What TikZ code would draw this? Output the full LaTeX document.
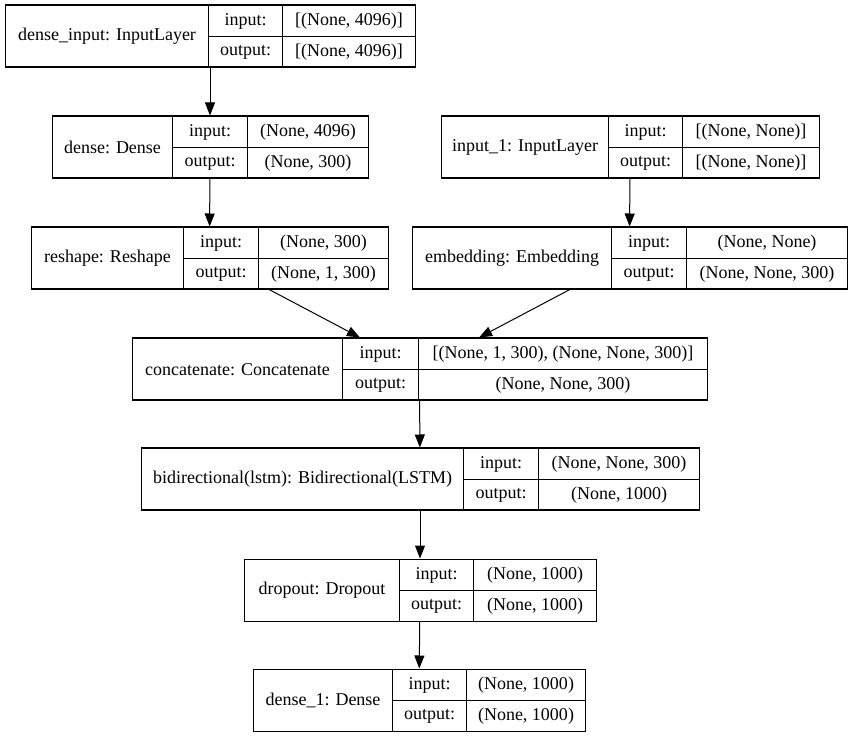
\documentclass[tikz,border=0pt]{standalone}
\usepackage{fontspec}
\setmainfont{Liberation Serif}
\newfontfamily\layerfont{Liberation Serif}
\usetikzlibrary{arrows.meta}

\newlength{\du}
\setlength{\du}{0.75pt}

\tikzset{
  layerbox/.style={draw=black, line width=1\du, rectangle, inner sep=0pt, minimum height=62\du, anchor=center},
  cell/.style={draw=black, line width=1\du, rectangle, inner sep=0pt, minimum height=31\du, anchor=north west, font=\layerfont\fontsize{13.5}{16}\selectfont},
  namecell/.style={cell, minimum height=62\du},
  edge/.style={draw=black, line width=1\du, -{Triangle[length=9.75pt, width=7.5pt]}}
}

\begin{document}
\begin{tikzpicture}[x=1\du, y=-1\du]
\useasboundingbox (0,0) rectangle (853,737);
% dense_input
\node[layerbox, minimum width=410\du] (dinput) at (210,36) {};
\node[namecell, minimum width=203\du] (dinput-n) at (5,5) {dense\_input: InputLayer};
\node[cell, minimum width=74\du] (dinput-i) at (208,5) {input:};
\node[cell, minimum width=133\du] (dinput-iv) at (282,5) {[(None, 4096)]};
\node[cell, minimum width=74\du] (dinput-o) at (208,36) {output:};
\node[cell, minimum width=133\du] (dinput-ov) at (282,36) {[(None, 4096)]};
% dense
\node[layerbox, minimum width=316\du] (dense) at (210,147) {};
\node[namecell, minimum width=120\du] (dense-n) at (52,116) {dense: Dense};
\node[cell, minimum width=75\du] (dense-i) at (172,116) {input:};
\node[cell, minimum width=121\du] (dense-iv) at (247,116) {(None, 4096)};
\node[cell, minimum width=75\du] (dense-o) at (172,147) {output:};
\node[cell, minimum width=121\du] (dense-ov) at (247,147) {(None, 300)};
% input_1
\node[layerbox, minimum width=378\du] (input1) at (630,147) {};
\node[namecell, minimum width=167\du] (input1-n) at (441,116) {input\_1: InputLayer};
\node[cell, minimum width=74\du] (input1-i) at (608,116) {input:};
\node[cell, minimum width=137\du] (input1-iv) at (682,116) {[(None, None)]};
\node[cell, minimum width=74\du] (input1-o) at (608,147) {output:};
\node[cell, minimum width=137\du] (input1-ov) at (682,147) {[(None, None)]};
% reshape
\node[layerbox, minimum width=357\du] (reshape) at (209.5,258) {};
\node[namecell, minimum width=152\du] (reshape-n) at (31,227) {reshape: Reshape};
\node[cell, minimum width=75\du] (reshape-i) at (183,227) {input:};
\node[cell, minimum width=130\du] (reshape-iv) at (258,227) {(None, 300)};
\node[cell, minimum width=75\du] (reshape-o) at (183,258) {output:};
\node[cell, minimum width=130\du] (reshape-ov) at (258,258) {(None, 1, 300)};
% embedding
\node[layerbox, minimum width=435\du] (embed) at (629.5,258) {};
\node[namecell, minimum width=199\du] (embed-n) at (412,227) {embedding: Embedding};
\node[cell, minimum width=75\du] (embed-i) at (611,227) {input:};
\node[cell, minimum width=161\du] (embed-iv) at (686,227) {(None, None)};
\node[cell, minimum width=75\du] (embed-o) at (611,258) {output:};
\node[cell, minimum width=161\du] (embed-ov) at (686,258) {(None, None, 300)};
% concatenate
\node[layerbox, minimum width=575\du] (concat) at (419.5,369) {};
\node[namecell, minimum width=210\du] (concat-n) at (132,338) {concatenate: Concatenate};
\node[cell, minimum width=76\du] (concat-i) at (342,338) {input:};
\node[cell, minimum width=289\du] (concat-iv) at (418,338) {[(None, 1, 300), (None, None, 300)]};
\node[cell, minimum width=76\du] (concat-o) at (342,369) {output:};
\node[cell, minimum width=289\du] (concat-ov) at (418,369) {(None, None, 300)};
% bidirectional
\node[layerbox, minimum width=558\du] (bidir) at (420,479) {};
\node[namecell, minimum width=322\du] (bidir-n) at (141,448) {bidirectional(lstm): Bidirectional(LSTM)};
\node[cell, minimum width=75\du] (bidir-i) at (463,448) {input:};
\node[cell, minimum width=161\du] (bidir-iv) at (538,448) {(None, None, 300)};
\node[cell, minimum width=75\du] (bidir-o) at (463,479) {output:};
\node[cell, minimum width=161\du] (bidir-ov) at (538,479) {(None, 1000)};
% dropout
\node[layerbox, minimum width=352\du] (dropout) at (420,590) {};
\node[namecell, minimum width=155\du] (dropout-n) at (244,559) {dropout: Dropout};
\node[cell, minimum width=74\du] (dropout-i) at (399,559) {input:};
\node[cell, minimum width=123\du] (dropout-iv) at (473,559) {(None, 1000)};
\node[cell, minimum width=74\du] (dropout-o) at (399,590) {output:};
\node[cell, minimum width=123\du] (dropout-ov) at (473,590) {(None, 1000)};
% dense_1
\node[layerbox, minimum width=332\du] (dense1) at (419,700) {};
\node[namecell, minimum width=139\du] (dense1-n) at (253,669) {dense\_1: Dense};
\node[cell, minimum width=74\du] (dense1-i) at (392,669) {input:};
\node[cell, minimum width=119\du] (dense1-iv) at (466,669) {(None, 1000)};
\node[cell, minimum width=74\du] (dense1-o) at (392,700) {output:};
\node[cell, minimum width=119\du] (dense1-ov) at (466,700) {(None, 1000)};
% edges
\draw[edge] (dinput) -- (dense);
\draw[edge] (dense) -- (reshape);
\draw[edge] (input1) -- (embed);
\draw[edge] (reshape) -- (concat);
\draw[edge] (embed) -- (concat);
\draw[edge] (concat) -- (bidir);
\draw[edge] (bidir) -- (dropout);
\draw[edge] (dropout) -- (dense1);
\end{tikzpicture}
\end{document}
